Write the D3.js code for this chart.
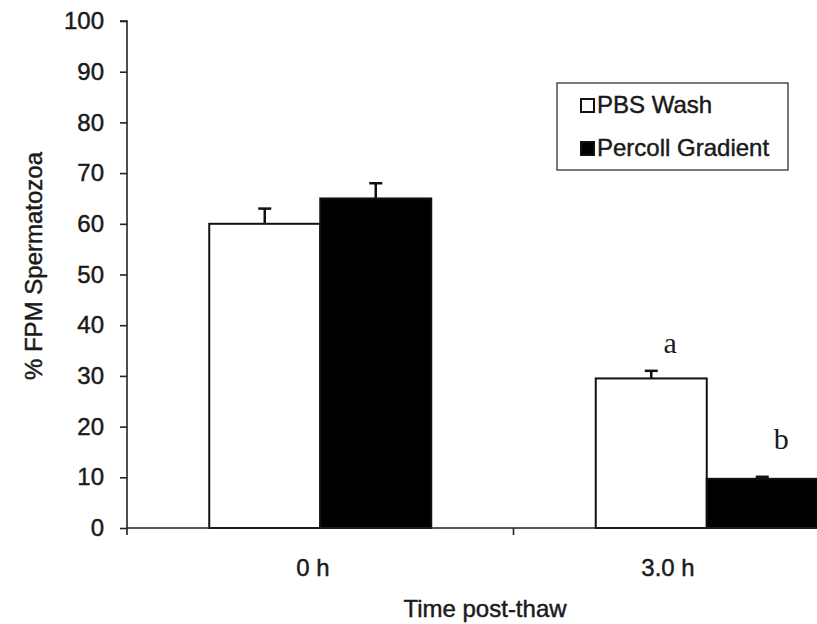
<!DOCTYPE html>
<html>
<head>
<meta charset="utf-8">
<script src="https://cdn.jsdelivr.net/npm/d3@7/dist/d3.min.js"></script>
<style>
  html, body { margin: 0; padding: 0; background: #fff; }
  svg { display: block; }
  text { font-family: Arial, "Liberation Sans", Helvetica, sans-serif; fill: #1a1a1a; }
  .sans { stroke: #1a1a1a; stroke-width: 0.45px; }
</style>
</head>
<body>
<svg id="chart" width="817" height="624"></svg>
<script>
// ---- data ----
const categories = ["0 h", "3.0 h"];
const series = ["PBS Wash", "Percoll Gradient"];
const pbsValues = [60, 29.5];
const percollValues = [65, 9.7];
const pbsErrors = [3, 1.5];
const percollErrors = [3, 0.4];
const sigLetters = [["", ""], ["a", "b"]];
const yTicks = [0, 10, 20, 30, 40, 50, 60, 70, 80, 90, 100];

(function () {
const svg = d3.select("#chart");
const W = 817;
const mLeft = 127, mBottom = 528, mTop = 21;
const FS = "24px";

const y = d3.scaleLinear().domain([0, 100]).range([mBottom, mTop]);
const x0 = d3.scaleBand().domain(categories).range([mLeft, 900]).padding(0);
const x1 = d3.scaleBand().domain(series).range([0, x0.bandwidth()])
  .paddingInner(0).paddingOuter(0.741);
const colors = {"PBS Wash": "#ffffff", "Percoll Gradient": "#000000"};
const letterGap = {"PBS Wash": 18, "Percoll Gradient": 28};
const labelX = d3.scalePoint().domain(categories).range([313, 668]);

const rows = [];
categories.forEach((c, i) => {
  rows.push({cat: c, s: series[0], v: pbsValues[i], e: pbsErrors[i], letter: sigLetters[i][0]});
  rows.push({cat: c, s: series[1], v: percollValues[i], e: percollErrors[i], letter: sigLetters[i][1]});
});

// error bars (behind bars)
const eb = svg.append("g");
rows.forEach(d => {
  const cx = x0(d.cat) + x1(d.s) + x1.bandwidth() / 2;
  eb.append("line").attr("x1", cx).attr("x2", cx)
    .attr("y1", y(d.v)).attr("y2", y(d.v + d.e))
    .attr("stroke", "#111").attr("stroke-width", 2.5);
  eb.append("line").attr("x1", cx - 6.5).attr("x2", cx + 6.5)
    .attr("y1", y(d.v + d.e)).attr("y2", y(d.v + d.e))
    .attr("stroke", "#111").attr("stroke-width", 2.5);
});

// bars
svg.append("g").selectAll("rect").data(rows).join("rect")
  .attr("x", d => x0(d.cat) + x1(d.s))
  .attr("y", d => y(d.v))
  .attr("width", x1.bandwidth())
  .attr("height", d => y(0) - y(d.v))
  .attr("fill", d => colors[d.s])
  .attr("stroke", "#111")
  .attr("stroke-width", 2);

// significance letters
svg.append("g").selectAll("text").data(rows.filter(d => d.letter)).join("text")
  .attr("x", d => x0(d.cat) + x1(d.s) + x1.bandwidth() / 2 + 19)
  .attr("y", d => y(d.v + d.e) - letterGap[d.s])
  .attr("text-anchor", "middle")
  .style("font-family", "'Liberation Serif', 'Times New Roman', serif")
  .style("font-size", "30px")
  .text(d => d.letter);

// y axis
const yAxis = d3.axisLeft(y).tickValues(yTicks).tickSize(7).tickPadding(16);
const gy = svg.append("g").attr("transform", `translate(${mLeft},0)`).call(yAxis);
gy.select(".domain").attr("stroke", "#222").attr("stroke-width", 1.6)
  .attr("d", `M-7,${mTop}H0V${mBottom + 7}`);
gy.selectAll(".tick line").attr("stroke", "#222").attr("stroke-width", 1.6);
gy.selectAll(".tick text").attr("class", "sans").style("font-size", FS)
  .style("font-family", "Arial, 'Liberation Sans', sans-serif")
  .attr("fill", "#1a1a1a");

// x axis line and ticks
const gx = svg.append("g");
gx.append("line").attr("x1", mLeft).attr("x2", W).attr("y1", mBottom).attr("y2", mBottom)
  .attr("stroke", "#222").attr("stroke-width", 1.6);
gx.append("line")
  .attr("x1", x0(categories[1])).attr("x2", x0(categories[1]))
  .attr("y1", mBottom).attr("y2", mBottom + 7)
  .attr("stroke", "#222").attr("stroke-width", 1.6);

// category labels
svg.append("g").selectAll("text").data(categories).join("text")
  .attr("class", "sans")
  .attr("x", d => labelX(d)).attr("y", 576)
  .attr("text-anchor", "middle")
  .style("font-size", FS)
  .text(d => d);

// axis titles
svg.append("text").attr("class", "sans").attr("x", 485).attr("y", 617).attr("text-anchor", "middle")
  .style("font-size", FS).text("Time post-thaw");
svg.append("text").attr("class", "sans").attr("transform", "translate(42,266) rotate(-90)")
  .attr("text-anchor", "middle").style("font-size", FS).text("% FPM Spermatozoa");

// legend
const lg = svg.append("g");
lg.append("rect").attr("x", 557).attr("y", 83).attr("width", 231).attr("height", 87)
  .attr("fill", "#fff").attr("stroke", "#333").attr("stroke-width", 1.3);
series.forEach((s, i) => {
  const yy = 113 + i * 43;
  lg.append("rect").attr("x", 581).attr("y", yy - 14).attr("width", 13).attr("height", 13)
    .attr("fill", colors[s]).attr("stroke", "#111").attr("stroke-width", 2);
  lg.append("text").attr("class", "sans").attr("x", 597).attr("y", yy).style("font-size", FS).text(s);
});
})();
</script>
</body>
</html>
